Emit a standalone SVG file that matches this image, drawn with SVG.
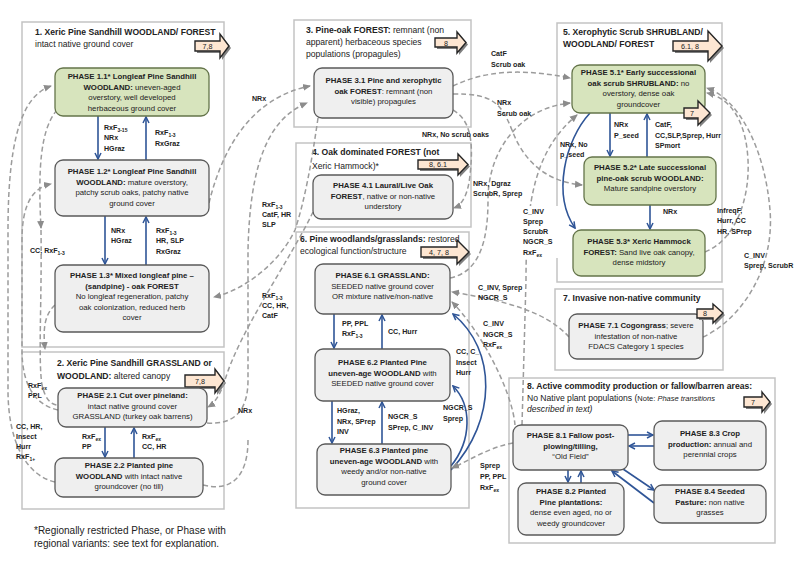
<svg xmlns="http://www.w3.org/2000/svg" width="800" height="572" viewBox="0 0 800 572">
<defs>
<style>
.st{fill:#fff;stroke:#c3c3c3;stroke-width:1.5}
.pg{fill:#efefef;stroke:#5a5a5a;stroke-width:1.3}
.pv{fill:#d7e4bd;stroke:#64744a;stroke-width:1.3}
text{font-family:"Liberation Sans",Arial,sans-serif;fill:#222}
.t{font-size:7.8px;text-anchor:middle}
.h{font-size:8.6px}
.l{font-size:7.1px;font-weight:bold}
.b{font-weight:bold}
.s{font-size:5px}
.fn{font-size:10px}
.blu{stroke:#2f5597;stroke-width:1.6;fill:none;marker-end:url(#ab)}
.dsh{stroke:#9c9c9c;stroke-width:1.5;fill:none;stroke-dasharray:5 3;marker-end:url(#ag)}
.dn{stroke:#9c9c9c;stroke-width:1.5;fill:none;stroke-dasharray:5 3}
.ba{fill:#fde6d2;stroke:#262626;stroke-width:1.4}
.bs{fill:#808080}
.bt{font-size:7.2px;text-anchor:middle}
</style>
<marker id="ab" markerWidth="8" markerHeight="8" refX="7" refY="4" orient="auto" markerUnits="userSpaceOnUse">
<path d="M1,1 L7,4 L1,7" fill="none" stroke="#2f5597" stroke-width="1.5"/>
</marker>
<marker id="ag" markerWidth="8" markerHeight="8" refX="7" refY="4" orient="auto" markerUnits="userSpaceOnUse">
<path d="M0,0.5 L8,4 L0,7.5 Z" fill="#8c8c8c"/>
</marker>
</defs>
<rect width="800" height="572" fill="#fff"/>

<!-- State containers -->
<g id="state1"><rect class="st" x="22" y="22" width="202" height="325"/>
<text class="h" x="35" y="35"><tspan class="b">1. Xeric Pine Sandhill WOODLAND/ FOREST</tspan></text>
<text class="h" x="35" y="47">intact native ground cover</text>
<path class="bs" d="M197,43 H222 V36 L231,48 L222,60 V53 H197 Z"/>
<path class="ba" d="M195,41 H220 V34 L229,46 L220,58 V51 H195 Z"/>
<text class="bt" x="207.5" y="49">7,8</text>
</g>
<g id="state2"><rect class="st" x="22" y="352" width="202" height="157"/>
<text class="h" x="57" y="366"><tspan class="b">2. Xeric Pine Sandhill GRASSLAND or</tspan></text>
<text class="h" x="57" y="379"><tspan class="b">WOODLAND:</tspan>  altered canopy</text>
<path class="bs" d="M187,377 H217 V371 L226,383 L217,395 V389 H187 Z"/>
<path class="ba" d="M185,375 H215 V369 L224,381 L215,393 V387 H185 Z"/>
<text class="bt" x="200" y="384">7,8</text>
</g>
<g id="state3"><rect class="st" x="294" y="20" width="177" height="107"/>
<text class="h" x="306" y="33"><tspan class="b">3. Pine-oak FOREST:</tspan> remnant (non</text>
<text class="h" x="306" y="45">apparent) herbaceous species</text>
<text class="h" x="306" y="57">populations (propagules)</text>
<path class="bs" d="M437,40 H459 V34 L468,44.5 L459,55 V49 H437 Z"/>
<path class="ba" d="M435,38 H457 V32 L466,42.5 L457,53 V47 H435 Z"/>
<text class="bt" x="446" y="45.5">8</text>
</g>
<g id="state4"><rect class="st" x="296" y="143" width="175" height="84"/>
<text class="h" x="312" y="155"><tspan class="b">4. Oak dominated FOREST (not</tspan></text>
<text class="h" x="312" y="169">Xeric Hammock)*</text>
<path class="bs" d="M420,162 H460 V156 L470,166.5 L460,177 V171 H420 Z"/>
<path class="ba" d="M418,160 H458 V154 L468,164.5 L458,175 V169 H418 Z"/>
<text class="bt" x="438" y="167">8, 6.1</text>
</g>
<g id="state5"><rect class="st" x="557" y="23" width="165" height="259"/>
<text class="h" x="563" y="35"><tspan class="b">5. Xerophytic Scrub SHRUBLAND/</tspan></text>
<text class="h" x="563" y="47"><tspan class="b">WOODLAND/ FOREST</tspan></text>
<path class="bs" d="M675,43 H710 V33 L724,48 L710,63 V53 H675 Z"/>
<path class="ba" d="M673,41 H708 V31 L722,46 L708,61 V51 H673 Z"/>
<text class="bt" x="690" y="49">6.1, 8</text>
</g>
<g id="state6"><rect class="st" x="296" y="232" width="173" height="276"/>
<text class="h" x="300" y="242"><tspan class="b">6. Pine woodlands/grasslands:</tspan> restored</text>
<text class="h" x="300" y="254">ecological function/structure</text>
<path class="bs" d="M423,249 H459 V242 L471,254 L459,266 V259 H423 Z"/>
<path class="ba" d="M421,247 H457 V240 L469,252 L457,264 V257 H421 Z"/>
<text class="bt" x="439" y="255">4, 7, 8</text>
</g>
<g id="state7"><rect class="st" x="555" y="289" width="168" height="81"/>
<text class="h" x="563" y="301"><tspan class="b">7. Invasive non-native community</tspan></text>
</g>
<g id="state8"><rect class="st" x="509" y="378" width="266" height="165"/>
<text class="h" x="527" y="389"><tspan class="b">8. Active commodity production or fallow/barren areas:</tspan></text>
<text class="h" x="527" y="401">No Native plant populations (<tspan font-size="7.5">Note:  </tspan><tspan font-size="7.5" font-style="italic">Phase transitions</tspan></text>
<text class="h" x="527" y="412" font-style="italic" font-size="7.5">described in text)</text>
<path class="bs" d="M746,399 H764 V394 L772,404 L764,414 V409 H746 Z"/>
<path class="ba" d="M744,397 H762 V392 L770,402 L762,412 V407 H744 Z"/>
<text class="bt" x="753" y="405">7</text>
</g>

<!-- Connectors -->
<g id="connectors">
<path class="blu" d="M98,116 V159"/>
<path class="blu" d="M146,160 V117"/>
<path class="blu" d="M105,216 V264"/>
<path class="blu" d="M146,265 V217"/>
<path class="blu" d="M105,427 V457"/>
<path class="blu" d="M134,458 V428"/>
<path class="blu" d="M610,113 V156"/>
<path class="blu" d="M647,157 V114"/>
<path class="blu" d="M650,205 V229"/>
<path class="blu" d="M590,113 C565,140 552,195 575,228"/>
<path class="blu" d="M334,314 V348"/>
<path class="blu" d="M382,349 V315"/>
<path class="blu" d="M332,401 V443"/>
<path class="blu" d="M382,444 V402"/>
<path class="blu" d="M451,470 C497,420 497,350 453,314"/>
<path class="blu" d="M451,466 C472,440 472,405 453,386"/>
<path class="blu" d="M568,470 V482"/>
<path class="blu" d="M581,483 V471"/>
<path class="blu" d="M628,435 H653"/>
<path class="blu" d="M654,446 H629"/>
<path class="blu" d="M623,469 L654,490"/>
<path class="blu" d="M654,503 L612,471"/>
<path class="dsh" d="M55,482 C25,475 8,440 8,390 L8,230 C8,130 25,95 51,86"/>
<path class="dsh" d="M58,410 C35,405 22,385 22,350 L22,240 C22,205 32,188 51,184"/>
<path class="dsh" d="M57,110 C40,130 38,170 41,228"/>
<path class="dn" d="M41,230 C42,300 38,360 42,385 C45,398 50,404 57,405"/>
<path class="dsh" d="M55,305 C44,315 43,330 45,349"/>
<path class="dsh" d="M209,203 C222,150 250,98 310,86"/>
<path class="dsh" d="M207,423 C235,425 248,410 248,380 L248,250 C250,160 270,118 307,103"/>
<path class="dn" d="M203,485 C230,492 248,478 248,440"/>
<path class="dsh" d="M318,118 C312,160 305,200 295,230 C280,262 245,290 214,297"/>
<path class="dsh" d="M313,212 C290,260 240,330 225,380 C220,395 215,403 208,407"/>
<path class="dsh" d="M453,86 C490,68 530,70 570,78"/>
<path class="dsh" d="M453,94 C490,94 500,100 512,130 C525,165 550,182 582,185"/>
<path class="dsh" d="M453,110 C470,120 474,140 470,175 C468,195 462,205 454,208"/>
<path class="dsh" d="M450,278 C480,272 488,240 488,200 C488,150 520,108 570,103"/>
<path class="dsh" d="M522,425 L526,280 C526,200 535,150 577,115"/>
<path class="dsh" d="M569,337 C545,310 500,300 452,292"/>
<path class="dsh" d="M515,425 C512,390 480,330 452,302"/>
<path class="dsh" d="M513,443 C490,447 470,460 452,468"/>
<path class="dsh" d="M703,337 C740,320 775,270 770,210 C765,150 740,100 707,88"/>
<path class="dsh" d="M705,252 C735,240 750,200 748,160 C746,120 730,98 707,93"/>
</g>

<!-- Phase nodes -->
<g id="p11"><rect class="pv" x="55" y="68" width="154" height="48" rx="8"/>
<text class="t" x="132" y="79"><tspan class="b">PHASE 1.1* Longleaf Pine Sandhill</tspan></text>
<text class="t" x="132" y="89.5"><tspan class="b">WOODLAND:</tspan> uneven-aged</text>
<text class="t" x="132" y="100">overstory, well developed</text>
<text class="t" x="132" y="110.5">herbaceous ground cover</text></g>
<g id="p12"><rect class="pg" x="55" y="160" width="154" height="56" rx="8"/>
<text class="t" x="132" y="174"><tspan class="b">PHASE 1.2* Longleaf Pine Sandhill</tspan></text>
<text class="t" x="132" y="184.5"><tspan class="b">WOODLAND:</tspan> mature overstory,</text>
<text class="t" x="132" y="195">patchy scrub oaks, patchy native</text>
<text class="t" x="132" y="205.5">ground cover</text></g>
<g id="p13"><rect class="pg" x="55" y="265" width="154" height="67" rx="8"/>
<text class="t" x="132" y="278"><tspan class="b">PHASE 1.3* Mixed longleaf pine –</tspan></text>
<text class="t" x="132" y="288.5"><tspan class="b">(sandpine) - oak FOREST</tspan></text>
<text class="t" x="132" y="299">No longleaf regeneration, patchy</text>
<text class="t" x="132" y="309.5">oak colonization, reduced herb</text>
<text class="t" x="132" y="320">cover</text></g>
<g id="p21"><rect class="pg" x="58" y="388" width="149" height="39" rx="8"/>
<text class="t" x="132.5" y="398"><tspan class="b">PHASE 2.1 Cut over pineland:</tspan></text>
<text class="t" x="132.5" y="408.5">intact native ground cover</text>
<text class="t" x="132.5" y="419">GRASSLAND (turkey oak barrens)</text></g>
<g id="p22"><rect class="pg" x="55" y="458" width="148" height="39" rx="8"/>
<text class="t" x="129" y="468"><tspan class="b">PHASE 2.2  Planted pine</tspan></text>
<text class="t" x="129" y="478.5"><tspan class="b">WOODLAND</tspan> with intact native</text>
<text class="t" x="129" y="489">groundcover (no till)</text></g>
<g id="p31"><rect class="pg" x="314" y="68" width="139" height="50" rx="8"/>
<text class="t" x="383.5" y="83"><tspan class="b">PHASE 3.1 Pine and xerophytic</tspan></text>
<text class="t" x="383.5" y="93.5"><tspan class="b">oak FOREST</tspan>: remnant (non</text>
<text class="t" x="383.5" y="104">visible) propagules</text></g>
<g id="p41"><rect class="pg" x="313" y="175" width="140" height="44" rx="8"/>
<text class="t" x="383" y="188"><tspan class="b">PHASE 4.1 Laural/Live Oak</tspan></text>
<text class="t" x="383" y="198.5"><tspan class="b">FOREST</tspan>, native or non-native</text>
<text class="t" x="383" y="209">understory</text></g>
<g id="p51"><rect class="pv" x="572" y="65" width="133" height="48" rx="8"/>
<text class="t" x="638.5" y="75"><tspan class="b">PHASE 5.1* Early successional</tspan></text>
<text class="t" x="638.5" y="85.5"><tspan class="b">oak scrub SHRUBLAND:</tspan> no</text>
<text class="t" x="638.5" y="96">overstory, dense oak</text>
<text class="t" x="638.5" y="106.5">groundcover</text>
<path class="bs" d="M686,110 H700 V103 L712,115 L700,127 V120 H686 Z"/>
<path class="ba" d="M684,108 H698 V101 L710,113 L698,125 V118 H684 Z"/>
<text class="bt" x="692" y="116">7</text></g>
<g id="p52"><rect class="pv" x="584" y="157" width="132" height="48" rx="8"/>
<text class="t" x="650" y="170"><tspan class="b">PHASE 5.2* Late successional</tspan></text>
<text class="t" x="650" y="180.5"><tspan class="b">pine-oak scrub WOODLAND:</tspan></text>
<text class="t" x="650" y="191">Mature  sandpine overstory</text></g>
<g id="p53"><rect class="pv" x="573" y="230" width="132" height="46" rx="8"/>
<text class="t" x="639" y="244"><tspan class="b">PHASE 5.3*  Xeric Hammock</tspan></text>
<text class="t" x="639" y="254.5"><tspan class="b">FOREST:</tspan> Sand live oak canopy,</text>
<text class="t" x="639" y="265">dense midstory</text></g>
<g id="p61"><rect class="pg" x="315" y="264" width="135" height="50" rx="8"/>
<text class="t" x="382.5" y="278"><tspan class="b">PHASE 6.1  GRASSLAND:</tspan></text>
<text class="t" x="382.5" y="288.5">SEEDED native ground cover</text>
<text class="t" x="382.5" y="299">OR mixture native/non-native</text></g>
<g id="p62"><rect class="pg" x="315" y="349" width="135" height="52" rx="8"/>
<text class="t" x="382.5" y="365"><tspan class="b">PHASE 6.2  Planted Pine</tspan></text>
<text class="t" x="382.5" y="375.5"><tspan class="b">uneven-age WOODLAND</tspan> with</text>
<text class="t" x="382.5" y="386">SEEDED native ground cover</text></g>
<g id="p63"><rect class="pg" x="317" y="444" width="134" height="51" rx="8"/>
<text class="t" x="384" y="453"><tspan class="b">PHASE 6.3  Planted pine</tspan></text>
<text class="t" x="384" y="463.5"><tspan class="b">uneven-age WOODLAND</tspan> with</text>
<text class="t" x="384" y="474">weedy and/or non-native</text>
<text class="t" x="384" y="484.5">ground cover</text></g>
<g id="p71"><rect class="pg" x="569" y="314" width="134" height="45" rx="8"/>
<text class="t" x="636" y="328"><tspan class="b">PHASE 7.1 Cogongrass</tspan>; severe</text>
<text class="t" x="636" y="338.5">infestation of non-native</text>
<text class="t" x="636" y="349">FDACS Category 1 species</text>
<path class="bs" d="M699,311 H715 V306 L725,315 L715,325 V320 H699 Z"/>
<path class="ba" d="M697,309 H713 V304 L723,313 L713,323 V318 H697 Z"/>
<text class="bt" x="705" y="316" font-size="6">8</text></g>
<g id="p81"><rect class="pg" x="513" y="425" width="115" height="45" rx="8"/>
<text class="t" x="570.5" y="438"><tspan class="b">PHASE 8.1  Fallow post-</tspan></text>
<text class="t" x="570.5" y="448.5"><tspan class="b">plowing/tilling,</tspan></text>
<text class="t" x="570.5" y="459">“Old Field”</text></g>
<g id="p82"><rect class="pg" x="518" y="483" width="106" height="52" rx="8"/>
<text class="t" x="571" y="494"><tspan class="b">PHASE 8.2 Planted</tspan></text>
<text class="t" x="571" y="504.5"><tspan class="b">Pine plantations:</tspan></text>
<text class="t" x="571" y="515">dense even aged, no or</text>
<text class="t" x="571" y="525.5">weedy groundcover</text></g>
<g id="p83"><rect class="pg" x="654" y="421" width="112" height="49" rx="8"/>
<text class="t" x="710" y="436"><tspan class="b">PHASE 8.3 Crop</tspan></text>
<text class="t" x="710" y="446.5"><tspan class="b">production:</tspan> annual and</text>
<text class="t" x="710" y="457">perennial crops</text></g>
<g id="p84"><rect class="pg" x="654" y="485" width="112" height="38" rx="8"/>
<text class="t" x="710" y="494"><tspan class="b">PHASE 8.4 Seeded</tspan></text>
<text class="t" x="710" y="504.5"><tspan class="b">Pasture:</tspan> non native</text>
<text class="t" x="710" y="515">grasses</text></g>

<!-- Transition labels -->
<rect x="521" y="206" width="40" height="52" fill="#fff"/>
<g id="labels">
<text class="l" x="104" y="130">RxF<tspan class="s" dy="1.5">3-15</tspan></text>
<text class="l" x="104" y="140">NRx</text>
<text class="l" x="104" y="151">HGraz</text>
<text class="l" x="155" y="135">RxF<tspan class="s" dy="1.5">1-3</tspan></text>
<text class="l" x="155" y="146">RxGraz</text>
<text class="l" x="111" y="233">NRx</text>
<text class="l" x="111" y="243">HGraz</text>
<text class="l" x="156" y="233">RxF<tspan class="s" dy="1.5">1-3</tspan></text>
<text class="l" x="156" y="243">HR, SLP</text>
<text class="l" x="156" y="254">RxGraz</text>
<text class="l" x="30" y="253">CC, RxF<tspan class="s" dy="1.5">1-3</tspan></text>
<text class="l" x="28" y="388">RxF<tspan class="s" dy="1.5">ex</tspan></text>
<text class="l" x="28" y="398">PPL</text>
<text class="l" x="16" y="429">CC, HR,</text>
<text class="l" x="16" y="439">Insect</text>
<text class="l" x="16" y="449">Hurr</text>
<text class="l" x="16" y="459">RxF<tspan class="s" dy="1.5">1+</tspan></text>
<text class="l" x="82" y="439">RxF<tspan class="s" dy="1.5">ex</tspan></text>
<text class="l" x="82" y="449">PP</text>
<text class="l" x="142" y="439">RxF<tspan class="s" dy="1.5">ex</tspan></text>
<text class="l" x="142" y="449">CC, HR</text>
<text class="l" x="252" y="101">NRx</text>
<text class="l" x="262" y="207">RxF<tspan class="s" dy="1.5">1-3</tspan></text>
<text class="l" x="262" y="217">CatF, HR</text>
<text class="l" x="262" y="227">SLP</text>
<text class="l" x="262" y="298">RxF<tspan class="s" dy="1.5">1-3</tspan></text>
<text class="l" x="262" y="308">CC, HR,</text>
<text class="l" x="262" y="318">CatF</text>
<text class="l" x="238" y="413">NRx</text>
<text class="l" x="491" y="56">CatF</text>
<text class="l" x="491" y="67">Scrub oak</text>
<text class="l" x="497" y="105">NRx</text>
<text class="l" x="497" y="116">Scrub oak</text>
<text class="l" x="422" y="137">NRx, No scrub oaks</text>
<text class="l" x="473" y="186">NRx, Dgraz</text>
<text class="l" x="473" y="196">ScrubR, Sprep</text>
<text class="l" x="560" y="147">NRx, No</text>
<text class="l" x="560" y="157">p_seed</text>
<text class="l" x="614" y="127">NRx</text>
<text class="l" x="614" y="138">P_seed</text>
<text class="l" x="655" y="127">CatF,</text>
<text class="l" x="655" y="138">CC,SLP,Sprep, Hurr</text>
<text class="l" x="655" y="148">SPmort</text>
<text class="l" x="663" y="214">NRx</text>
<text class="l" x="717" y="213">InfreqF,</text>
<text class="l" x="717" y="223">Hurr, CC</text>
<text class="l" x="717" y="234">HR, SPrep</text>
<text class="l" x="744" y="258">C_INV</text>
<text class="l" x="744" y="268">Sprep, ScrubR</text>
<text class="l" x="523" y="214">C_INV</text>
<text class="l" x="523" y="224">Sprep</text>
<text class="l" x="523" y="234">ScrubR</text>
<text class="l" x="523" y="244">NGCR_S</text>
<text class="l" x="523" y="255">RxF<tspan class="s" dy="1.5">ex</tspan></text>
<text class="l" x="478" y="290">C_INV, Sprep</text>
<text class="l" x="478" y="300">NGCR_S</text>
<text class="l" x="483" y="326">C_INV</text>
<text class="l" x="483" y="337">NGCR_S</text>
<text class="l" x="483" y="347">RxF<tspan class="s" dy="1.5">ex</tspan></text>
<text class="l" x="456" y="354">CC, C_</text>
<text class="l" x="456" y="365">Insect</text>
<text class="l" x="456" y="375">Hurr</text>
<text class="l" x="342" y="326">PP, PPL</text>
<text class="l" x="342" y="336">RxF<tspan class="s" dy="1.5">1-3</tspan></text>
<text class="l" x="388" y="334">CC, Hurr</text>
<text class="l" x="337" y="413">HGraz,</text>
<text class="l" x="337" y="424">NRx, SPrep</text>
<text class="l" x="337" y="434">INV</text>
<text class="l" x="388" y="419">NGCR_S</text>
<text class="l" x="388" y="430">SPrep, C_INV</text>
<text class="l" x="443" y="410">NGCR_S</text>
<text class="l" x="443" y="421">Sprep</text>
<text class="l" x="480" y="468">Sprep</text>
<text class="l" x="480" y="479">PP, PPL</text>
<text class="l" x="480" y="490">RxF<tspan class="s" dy="1.5">ex</tspan></text>
</g>

<text class="fn" x="34" y="534">*Regionally restricted Phase, or Phase with</text>
<text class="fn" x="34" y="547">regional variants:  see text for explanation.</text>
</svg>
